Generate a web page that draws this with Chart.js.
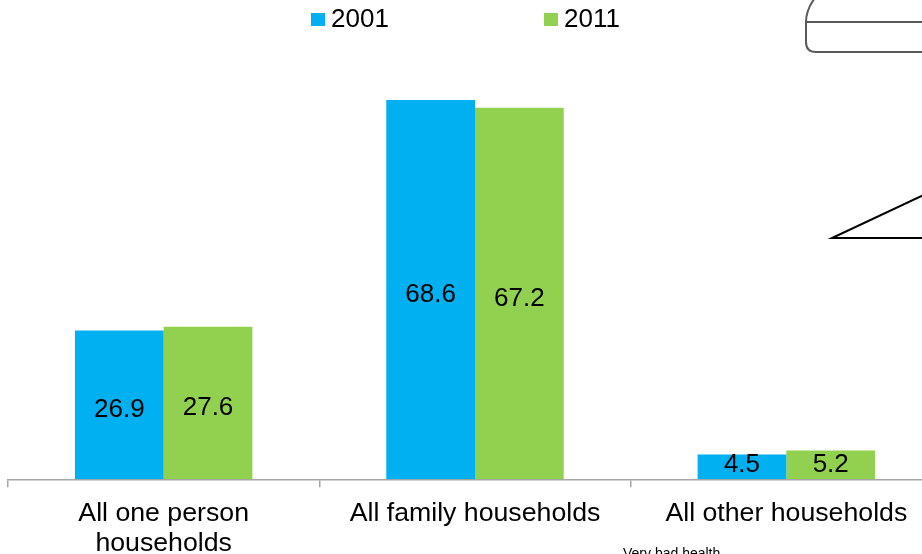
<!DOCTYPE html>
<html>
<head>
<meta charset="utf-8">
<script src="https://cdn.jsdelivr.net/npm/chart.js@4/dist/chart.umd.min.js"></script>
<style>
  html, body { margin: 0; padding: 0; background: #fff; overflow: hidden; }
  #wrap { position: relative; width: 942px; height: 554px; }
</style>
</head>
<body>
<div id="wrap"><canvas id="households"></canvas></div>
<script>
var categories = [["All one person", "households"], "All family households", "All other households"];
var seriesNames = ["2001", "2011"];
var values2001 = [26.9, 68.6, 4.5];
var values2011 = [27.6, 67.2, 5.2];
var seriesColors = ["#00B0F0", "#92D050"];

var FONT = "'Liberation Sans', Arial, sans-serif";

// value in the middle of each bar, kept above the axis for short bars
var barLabels = {
  id: "barLabels",
  afterDatasetsDraw: function (chart) {
    var ctx = chart.ctx;
    ctx.save();
    ctx.font = "26px " + FONT;
    ctx.fillStyle = "#000";
    ctx.textAlign = "center";
    ctx.textBaseline = "alphabetic";
    chart.data.datasets.forEach(function (ds, i) {
      chart.getDatasetMeta(i).data.forEach(function (bar, j) {
        var mid = Math.min((bar.y + bar.base) / 2 + 3, bar.base - 17);
        ctx.fillText(ds.data[j].toFixed(1), bar.x, mid + 9.3);
      });
    });
    ctx.restore();
  }
};

// legend on top, drawn from the datasets
var topLegend = {
  id: "topLegend",
  afterDraw: function (chart) {
    var ctx = chart.ctx;
    var starts = [311, 544];
    ctx.save();
    ctx.font = "26px " + FONT;
    ctx.textBaseline = "middle";
    ctx.textAlign = "left";
    chart.data.datasets.forEach(function (ds, i) {
      ctx.fillStyle = ds.backgroundColor;
      ctx.fillRect(starts[i], 13, 14, 13);
      ctx.fillStyle = "#000";
      ctx.fillText(ds.label, starts[i] + 20, 20);
    });
    ctx.restore();
  }
};

// leftovers of the slide around the chart
var slideBits = {
  id: "slideBits",
  afterDraw: function (chart) {
    var ctx = chart.ctx;
    ctx.save();
    ctx.strokeStyle = "#595959";
    ctx.lineWidth = 2;
    ctx.beginPath();
    ctx.moveTo(818, -6);
    ctx.quadraticCurveTo(806, 8, 806, 22);
    ctx.lineTo(806, 42);
    ctx.quadraticCurveTo(806, 52, 816, 52);
    ctx.lineTo(945, 52);
    ctx.moveTo(806, 22);
    ctx.lineTo(945, 22);
    ctx.stroke();
    ctx.strokeStyle = "#000";
    ctx.beginPath();
    ctx.moveTo(945, 238);
    ctx.lineTo(832, 238);
    ctx.lineTo(945, 185);
    ctx.stroke();
    ctx.font = "14px " + FONT;
    ctx.fillStyle = "#000";
    ctx.textBaseline = "alphabetic";
    ctx.fillText("Very bad health", 623, 558);
    ctx.restore();
  }
};

new Chart(document.getElementById("households"), {
  type: "bar",
  data: {
    labels: categories,
    datasets: [
      { label: seriesNames[0], data: values2001, backgroundColor: seriesColors[0] },
      { label: seriesNames[1], data: values2011, backgroundColor: seriesColors[1] }
    ]
  },
  options: {
    responsive: true,
    maintainAspectRatio: false,
    animation: false,
    devicePixelRatio: 1,
    categoryPercentage: 0.57,
    barPercentage: 1,
    layout: { padding: { left: 8, right: 0, top: 37, bottom: -16 } },
    plugins: {
      legend: { display: false },
      tooltip: { enabled: false }
    },
    scales: {
      x: {
        grid: { drawOnChartArea: false, tickLength: 8, color: "#a6a6a6", lineWidth: 1.5 },
        border: { color: "#a6a6a6", width: 1.5 },
        ticks: {
          color: "#000",
          font: { family: FONT, size: 26.7, lineHeight: 1.1 },
          padding: 12,
          maxRotation: 0,
          autoSkip: false
        }
      },
      y: {
        display: false,
        min: 0,
        max: 80
      }
    }
  },
  plugins: [barLabels, topLegend, slideBits]
});
</script>
</body>
</html>
